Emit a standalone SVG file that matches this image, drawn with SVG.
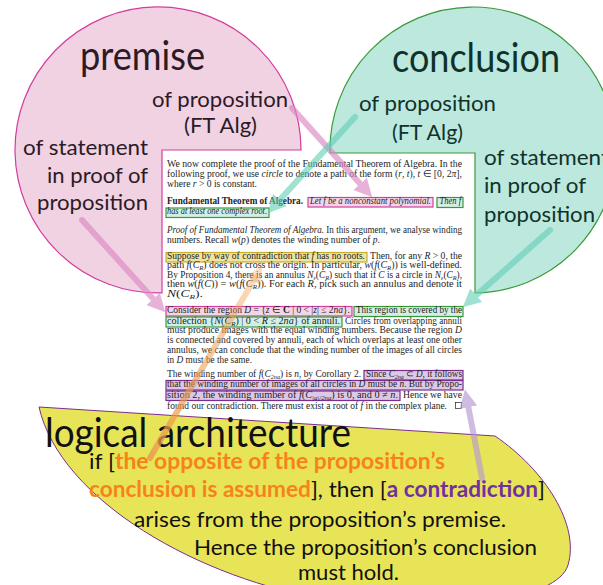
<svg xmlns="http://www.w3.org/2000/svg" width="603" height="585" viewBox="0 0 603 585">
<style>
.big{font-family:Lato,"Noto Sans",sans-serif;font-size:40px}
.mid{font-family:Lato,"Noto Sans",sans-serif;font-size:22px}
.pk{fill:#2c1a25}
.tl{fill:#10322a}
.doc{font-family:"Liberation Serif","Times New Roman",serif;font-size:9.8px;fill:#1e1e1e}
.i{font-style:italic}
.b{font-weight:bold}
.sub{font-size:6.5px}
.la{font-family:Lato,"Noto Sans",sans-serif;fill:#111}
.or{fill:#f8821a;font-weight:bold}
.pu{fill:#7030a0;font-weight:bold}
.hp{fill:#f2d6e8;stroke:#d43c9f;stroke-width:1.2}
.hg{fill:#d3efe5;stroke:#3a9a3a;stroke-width:1.2}
.hy{fill:#efe4a2;stroke:#c9ae2c;stroke-width:1.2}
.hv{fill:#ddc9e5;stroke:#7b2d8e;stroke-width:1.2}
.arr{fill:none;stroke-width:6;stroke-linecap:round}
</style>
<defs>
<marker id="mPink" viewBox="0 0 10 10" refX="2" refY="5" markerWidth="3" markerHeight="3" orient="auto"><path d="M0,0 L10,5 L0,10 z" fill="#dd88c4"/></marker>
<marker id="mTeal" viewBox="0 0 10 10" refX="2" refY="5" markerWidth="3" markerHeight="3" orient="auto"><path d="M0,0 L10,5 L0,10 z" fill="#5fcfb5"/></marker>
<marker id="mPur" viewBox="0 0 10 10" refX="2" refY="5" markerWidth="3" markerHeight="3" orient="auto"><path d="M0,0 L10,5 L0,10 z" fill="#b69bd2"/></marker>
<marker id="mOr" viewBox="0 0 10 10" refX="2" refY="5" markerWidth="3" markerHeight="3" orient="auto"><path d="M0,0 L10,5 L0,10 z" fill="#f0a050" fill-opacity="0.35"/></marker>
<linearGradient id="gOr" gradientUnits="userSpaceOnUse" x1="150" y1="458" x2="262" y2="266">
<stop offset="0" stop-color="#e89a4e" stop-opacity="0.8"/>
<stop offset="1" stop-color="#f0a050" stop-opacity="0.35"/>
</linearGradient>
</defs>

<g id="premise">
<path d="M301,150 A143 143 0 1 0 162,292.9 L162,150 Z" fill="#f0d2e3" stroke="#d43c9f" stroke-width="1.2"/>
<text class="big pk" x="80" y="70" textLength="125" lengthAdjust="spacingAndGlyphs">premise</text>
<text class="mid pk" x="152" y="107" textLength="136" lengthAdjust="spacingAndGlyphs">of proposition</text>
<text class="mid pk" x="184" y="133" textLength="73" lengthAdjust="spacingAndGlyphs">(FT Alg)</text>
<text class="mid pk" x="23" y="155" textLength="125" lengthAdjust="spacingAndGlyphs">of statement</text>
<text class="mid pk" x="47" y="183" textLength="101" lengthAdjust="spacingAndGlyphs">in proof of</text>
<text class="mid pk" x="37" y="210" textLength="111" lengthAdjust="spacingAndGlyphs">proposition</text>
</g>

<g id="conclusion">
<path d="M330,153 A143 143 0 1 1 475,293 L475,153 Z" fill="#bde8de" stroke="#3a9a3a" stroke-width="1.2"/>
<text class="big tl" x="392" y="72" textLength="168" lengthAdjust="spacingAndGlyphs">conclusion</text>
<text class="mid tl" x="359" y="111" textLength="137" lengthAdjust="spacingAndGlyphs">of proposition</text>
<text class="mid tl" x="392" y="140" textLength="71" lengthAdjust="spacingAndGlyphs">(FT Alg)</text>
<text class="mid tl" x="484" y="165" textLength="125" lengthAdjust="spacingAndGlyphs">of statement</text>
<text class="mid tl" x="484" y="193" textLength="102" lengthAdjust="spacingAndGlyphs">in proof of</text>
<text class="mid tl" x="484" y="222" textLength="111" lengthAdjust="spacingAndGlyphs">proposition</text>
</g>

<g id="logical-architecture">
<path d="M39,407 L495,436 C545,470 580,525 568,565 C558,600 450,615 330,600 C200,580 60,500 39,407 Z" fill="#e8e458" stroke="#7b2d8e" stroke-width="1"/>
<text class="la" x="45" y="447" font-size="40" textLength="306" lengthAdjust="spacingAndGlyphs">logical architecture</text>
<text class="la" x="89" y="469" font-size="22" textLength="356" lengthAdjust="spacingAndGlyphs">if [<tspan class="or">the opposite of the proposition’s</tspan></text>
<text class="la" x="89" y="497" font-size="22" textLength="456" lengthAdjust="spacingAndGlyphs"><tspan class="or">conclusion is assumed</tspan>], then [<tspan class="pu">a contradiction</tspan>]</text>
<text class="la" x="134" y="527" font-size="22" textLength="372" lengthAdjust="spacingAndGlyphs">arises from the proposition’s premise.</text>
<text class="la" x="194" y="555" font-size="22" textLength="343" lengthAdjust="spacingAndGlyphs">Hence the proposition’s conclusion</text>
<text class="la" x="298" y="580" font-size="22" textLength="101" lengthAdjust="spacingAndGlyphs">must hold.</text>
</g>

<g id="proof">
<rect class="hp" x="308" y="197.5" width="125" height="9.5"/>
<rect class="hg" x="437" y="197.5" width="26" height="10"/>
<rect class="hg" x="166" y="208" width="103" height="9.5"/>
<rect class="hy" x="166" y="252.5" width="201" height="9.5"/>
<rect class="hp" x="166" y="306.5" width="186" height="9.5"/>
<rect class="hg" x="354" y="306.5" width="109" height="10"/>
<rect class="hg" x="166" y="317" width="176" height="10"/>
<rect class="hv" x="364" y="370.5" width="99" height="9.5"/>
<rect class="hv" x="166" y="380.5" width="297" height="9.5"/>
<rect class="hv" x="166" y="391" width="234" height="9.5"/>
<text class="doc" x="167" y="167" textLength="295" lengthAdjust="spacingAndGlyphs">We now complete the proof of the Fundamental Theorem of Algebra. In the</text>
<text class="doc" x="167" y="177" textLength="295" lengthAdjust="spacingAndGlyphs">following proof, we use <tspan class="i">circle</tspan> to denote a path of the form (<tspan class="i">r</tspan>, <tspan class="i">t</tspan>), <tspan class="i">t</tspan> ∈ [0, 2<tspan class="i">π</tspan>],</text>
<text class="doc" x="167" y="187" textLength="90" lengthAdjust="spacingAndGlyphs">where <tspan class="i">r</tspan> &gt; 0 is constant.</text>
<text class="doc b" x="167" y="204" textLength="136" lengthAdjust="spacingAndGlyphs">Fundamental Theorem of Algebra.</text>
<text class="doc i" x="310" y="204" textLength="121" lengthAdjust="spacingAndGlyphs">Let f be a nonconstant polynomial.</text>
<text class="doc i" x="439.5" y="204" textLength="21.5" lengthAdjust="spacingAndGlyphs">Then f</text>
<text class="doc i" x="167" y="214" textLength="100" lengthAdjust="spacingAndGlyphs">has at least one complex root.</text>
<text class="doc" x="167" y="233" textLength="295" lengthAdjust="spacingAndGlyphs"><tspan class="i">Proof of Fundamental Theorem of Algebra.</tspan> In this argument, we analyse winding</text>
<text class="doc" x="167" y="243" textLength="213" lengthAdjust="spacingAndGlyphs">numbers. Recall <tspan class="i">w</tspan>(<tspan class="i">p</tspan>) denotes the winding number of <tspan class="i">p</tspan>.</text>
<text class="doc" x="167" y="258.5" textLength="198" lengthAdjust="spacingAndGlyphs">Suppose by way of contradiction that <tspan class="i">f</tspan> has no roots.</text>
<text class="doc" x="370" y="258.5" textLength="92" lengthAdjust="spacingAndGlyphs">Then, for any <tspan class="i">R</tspan> &gt; 0, the</text>
<text class="doc" x="167" y="268" textLength="295" lengthAdjust="spacingAndGlyphs">path <tspan class="i">f</tspan>(<tspan class="i">C</tspan><tspan class="sub i" dy="2">R</tspan><tspan dy="-2">) does not cross the origin. In particular, </tspan><tspan class="i">w</tspan>(<tspan class="i">f</tspan>(<tspan class="i">C</tspan><tspan class="sub i" dy="2">R</tspan><tspan dy="-2">)) is well-defined.</tspan></text>
<text class="doc" x="167" y="277.5" textLength="295" lengthAdjust="spacingAndGlyphs">By Proposition 4, there is an annulus <tspan class="i">N</tspan><tspan class="sub i" dy="2">ε</tspan><tspan dy="-2">(</tspan><tspan class="i">C</tspan><tspan class="sub i" dy="2">R</tspan><tspan dy="-2">) such that if </tspan><tspan class="i">C</tspan> is a circle in <tspan class="i">N</tspan><tspan class="sub i" dy="2">ε</tspan><tspan dy="-2">(</tspan><tspan class="i">C</tspan><tspan class="sub i" dy="2">R</tspan><tspan dy="-2">),</tspan></text>
<text class="doc" x="167" y="287" textLength="295" lengthAdjust="spacingAndGlyphs">then <tspan class="i">w</tspan>(<tspan class="i">f</tspan>(<tspan class="i">C</tspan>)) = <tspan class="i">w</tspan>(<tspan class="i">f</tspan>(<tspan class="i">C</tspan><tspan class="sub i" dy="2">R</tspan><tspan dy="-2">)). For each </tspan><tspan class="i">R</tspan>, pick such an annulus and denote it</text>
<text class="doc" x="167" y="297" textLength="36" lengthAdjust="spacingAndGlyphs"><tspan class="i">N</tspan>(<tspan class="i">C</tspan><tspan class="sub i" dy="2">R</tspan><tspan dy="-2">).</tspan></text>
<text class="doc" x="167" y="313" textLength="183" lengthAdjust="spacingAndGlyphs">Consider the region <tspan class="i">D</tspan> = {<tspan class="i">z</tspan> ∈ <tspan class="b">C</tspan> | 0 &lt; |<tspan class="i">z</tspan>| ≤ 2<tspan class="i">na</tspan>}.</text>
<text class="doc" x="356" y="313" textLength="106" lengthAdjust="spacingAndGlyphs">This region is covered by the</text>
<text class="doc" x="167" y="323.5" textLength="173" lengthAdjust="spacingAndGlyphs">collection {<tspan class="i">N</tspan>(<tspan class="i">C</tspan><tspan class="sub i" dy="2">R</tspan><tspan dy="-2">) | 0 &lt; </tspan><tspan class="i">R</tspan> ≤ 2<tspan class="i">na</tspan>} of annuli.</text>
<text class="doc" x="345" y="323.5" textLength="117" lengthAdjust="spacingAndGlyphs">Circles from overlapping annuli</text>
<text class="doc" x="167" y="333" textLength="295" lengthAdjust="spacingAndGlyphs">must produce images with the equal winding numbers. Because the region <tspan class="i">D</tspan></text>
<text class="doc" x="167" y="343" textLength="295" lengthAdjust="spacingAndGlyphs">is connected and covered by annuli, each of which overlaps at least one other</text>
<text class="doc" x="167" y="353" textLength="295" lengthAdjust="spacingAndGlyphs">annulus, we can conclude that the winding number of the images of all circles</text>
<text class="doc" x="167" y="363" textLength="85" lengthAdjust="spacingAndGlyphs">in <tspan class="i">D</tspan> must be the same.</text>
<text class="doc" x="167" y="377" textLength="194" lengthAdjust="spacingAndGlyphs">The winding number of <tspan class="i">f</tspan>(<tspan class="i">C</tspan><tspan class="sub i" dy="2">2na</tspan><tspan dy="-2">) is </tspan><tspan class="i">n</tspan>, by Corollary 2.</text>
<text class="doc" x="366" y="377" textLength="96" lengthAdjust="spacingAndGlyphs">Since <tspan class="i">C</tspan><tspan class="sub i" dy="2">2na</tspan><tspan dy="-2"> ⊂ </tspan><tspan class="i">D</tspan>, it follows</text>
<text class="doc" x="167" y="387" textLength="295" lengthAdjust="spacingAndGlyphs">that the winding number of images of all circles in <tspan class="i">D</tspan> must be <tspan class="i">n</tspan>. But by Propo-</text>
<text class="doc" x="167" y="398" textLength="231" lengthAdjust="spacingAndGlyphs">sition 2, the winding number of <tspan class="i">f</tspan>(<tspan class="i">C</tspan><tspan class="sub i" dy="2">|a|/2na</tspan><tspan dy="-2">) is 0, and 0 ≠ </tspan><tspan class="i">n</tspan>.</text>
<text class="doc" x="403" y="398" textLength="59" lengthAdjust="spacingAndGlyphs">Hence we have</text>
<text class="doc" x="167" y="409" textLength="280" lengthAdjust="spacingAndGlyphs">found our contradiction. There must exist a root of <tspan class="i">f</tspan> in the complex plane.</text>
<rect x="455.5" y="402.5" width="6" height="6" fill="none" stroke="#1e1e1e" stroke-width="0.7"/>
</g>

<g id="connectors">
<g opacity="0.65"><path class="arr" d="M292,108 L362.6,186.6" stroke="#dd88c4" marker-end="url(#mPink)"/></g>
<g opacity="0.6"><path class="arr" d="M355,117 L277.4,202.6" stroke="#5fcfb5" marker-end="url(#mTeal)"/></g>
<g opacity="0.65"><path class="arr" d="M82,220 L155.6,301.6" stroke="#dd88c4" marker-end="url(#mPink)"/></g>
<g opacity="0.6"><path class="arr" d="M550,230 L473.5,297.7" stroke="#5fcfb5" marker-end="url(#mTeal)"/></g>
<path class="arr" d="M150,458 L255,278" stroke="url(#gOr)" marker-end="url(#mOr)"/>
<g opacity="0.65"><path class="arr" d="M482,478 L467.7,403.7" stroke="#b69bd2" marker-end="url(#mPur)"/></g>
</g>
</svg>
